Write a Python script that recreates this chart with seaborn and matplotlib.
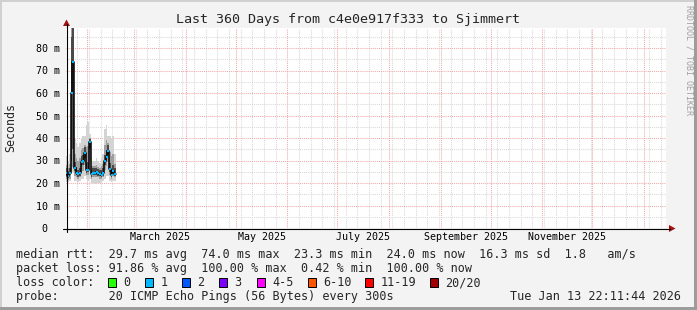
import numpy as np
import pandas as pd
import matplotlib
matplotlib.use("Agg")
import matplotlib.pyplot as plt
import matplotlib.dates as mdates
from matplotlib.patches import Rectangle, Polygon
from matplotlib.lines import Line2D
from matplotlib.ticker import MultipleLocator
import seaborn as sns

# ---------------- data ----------------
first_day = "2025-01-19"
n_days = 30
median = [24.6, 23.3, 24.6, 60.0, 74.0, 26.8, 24.5, 23.8, 24.3, 29.3,
          29.9, 33.3, 25.8, 26.0, 38.2, 23.8, 24.6, 24.6, 24.8, 24.3,
          23.9, 23.6, 24.3, 29.9, 31.7, 34.4, 26.4, 23.7, 25.5, 24.0]
rtt_min = [20.5, 20.5, 21, 24, 25, 21, 21, 20.5, 21, 22,
           22, 23, 22, 21, 22, 20, 20, 19.5, 20, 20,
           20, 20, 21, 22, 23, 23, 21, 20.5, 21, 21]
rtt_max = [32, 30, 33, 95, 95, 40, 38, 36, 38, 40,
           41, 41, 46, 47, 42, 31, 30, 30, 31, 30,
           29, 31, 33, 44, 46, 41, 41, 40, 41, 33]
rtt_p10 = [22.0, 21.5, 22.0, 26, 27, 23, 22.5, 22, 22.5, 25,
           25.5, 28, 23.5, 23.5, 30, 22, 22.5, 22.5, 22.5, 22.5,
           22, 22, 22.5, 26, 27.5, 29.5, 23.5, 22, 23, 22.5]
rtt_p90 = [28.0, 26.5, 28.5, 95, 95, 33, 31, 30, 31, 34.5,
           35.5, 37, 36, 36.5, 40, 27.5, 27.5, 27.5, 28, 27,
           26.5, 27.5, 28.5, 37, 39, 38, 34, 32, 33, 28.5]
rtt_q1 = [23.4, 22.3, 23.4, 30, 35, 25.4, 23.4, 22.8, 23.3, 27.5,
          28, 31, 24.5, 24.8, 35, 22.8, 23.5, 23.5, 23.7, 23.3,
          22.9, 22.6, 23.3, 28, 30, 32.5, 25, 22.7, 24.3, 23]
rtt_q3 = [26.6, 25.3, 26.8, 85, 90, 29.5, 27, 26, 26.8, 32,
          32.5, 36, 29, 29.5, 39.5, 25.8, 26.5, 26.5, 26.8, 26.2,
          25.8, 25.8, 26.5, 32.5, 34.5, 37, 29, 26, 28, 26.5]

range_start = "2025-01-19 04:00"
range_days = 360
yticks = [0, 10, 20, 30, 40, 50, 60, 70, 80]
ytick_labels = ["0  ", "10 m", "20 m", "30 m", "40 m", "50 m", "60 m", "70 m", "80 m"]
month_label_starts = ["2025-03-01", "2025-05-01", "2025-07-01", "2025-09-01", "2025-11-01"]
month_labels = ["March 2025", "May 2025", "July 2025", "September 2025", "November 2025"]

title = "Last 360 Days from c4e0e917f333 to Sjimmert"
legend_rtt = "median rtt:  29.7 ms avg  74.0 ms max  23.3 ms min  24.0 ms now  16.3 ms sd  1.8   am/s"
legend_loss = "packet loss: 91.86 % avg  100.00 % max  0.42 % min  100.00 % now"
legend_probe = "probe:       20 ICMP Echo Pings (56 Bytes) every 300s"
stamp = "Tue Jan 13 22:11:44 2026"
loss_labels = ["0", "1", "2", "3", "4-5", "6-10", "11-19", "20/20"]
loss_colors = ["#26ff00", "#00b8ff", "#0059ff", "#7e00ff", "#ff00ff",
               "#ff5500", "#ff0000", "#a10000"]

# ---------------- figure ----------------
sns.set_theme(style="white")
plt.rcParams['font.family'] = ['DejaVu Sans Mono', 'DejaVu Sans']

W, H = 697, 310
fig = plt.figure(figsize=(W / 100, H / 100), dpi=100, facecolor="#f3f3f3")


def fx(x):
    return x / W


def fy(y):
    return 1 - y / H


ax = fig.add_axes([fx(66), fy(228), 600 / W, 200 / H])
ax.set_facecolor("white")

days = pd.date_range(first_day, periods=n_days, freq="D")
edges = days.append(pd.DatetimeIndex([days[-1] + pd.Timedelta(days=1)]))


def ext(a):
    return list(a) + [a[-1]]


ax.fill_between(edges, ext(rtt_min), ext(rtt_max), step="post", color="#d4d4d4", lw=0, zorder=2)
ax.fill_between(edges, ext(rtt_p10), ext(rtt_p90), step="post", color="#9e9e9e", lw=0, zorder=2)
ax.fill_between(edges, ext(rtt_q1), ext(rtt_q3), step="post", color="#4a4a4a", lw=0, zorder=2)

df_line = pd.DataFrame({"date": edges, "median": ext(median)})
sns.lineplot(data=df_line, x="date", y="median", drawstyle="steps-post",
             color="black", lw=1.1, ax=ax, zorder=3)
df_pts = pd.DataFrame({"date": days + pd.Timedelta(hours=12), "median": median})
sns.scatterplot(data=df_pts, x="date", y="median", marker="s", s=4.5,
                color="#00b8ff", linewidth=0, ax=ax, zorder=4)

t0 = pd.Timestamp(range_start)
t1 = t0 + pd.Timedelta(days=range_days)
ax.set_xlim(t0, t1)
ax.set_ylim(0, 200 / 2.25)
ax.set_xlabel("")
ax.set_ylabel("")

ax.xaxis.set_major_locator(mdates.MonthLocator())
ax.xaxis.set_minor_locator(mdates.WeekdayLocator(byweekday=mdates.SU))
ax.set_xticklabels([])
ax.xaxis.set_minor_formatter(plt.NullFormatter())
ax.set_yticks(yticks)
ax.set_yticklabels(ytick_labels, fontsize=7.2, family="DejaVu Sans Mono")
ax.yaxis.set_minor_locator(MultipleLocator(5))

red = "#f3a8a8"
gray = "#d8d8d8"
ax.grid(which="major", color=red, ls=(0, (1, 1)), lw=0.75)
ax.grid(which="minor", color=gray, ls=(0, (1, 1)), lw=0.75)
ax.set_axisbelow(True)
for s in ax.spines.values():
    s.set_visible(False)
ax.tick_params(axis="y", which="major", length=2.2, width=0.7, color=red, pad=2.2, labelcolor="black")
ax.tick_params(axis="y", which="minor", length=0)
ax.tick_params(axis="x", which="major", length=2.0, width=0.7, color=red, direction="out")
ax.tick_params(axis="x", which="minor", length=1.4, width=0.7, color=gray, direction="out")

# month labels centred on the month
for lbl, ms in zip(month_labels, month_label_starts):
    a = pd.Timestamp(ms)
    b = a + pd.offsets.MonthBegin(1)
    c = a + (b - a) / 2
    ax.text(c, -9.3 / 200, lbl, transform=ax.get_xaxis_transform(), ha="center",
            va="center", fontsize=7.2, color="black")

# axis lines and arrows
axc = "black"
arrow_c = "#a01010"
fig.add_artist(Line2D([fx(66.5), fx(66.5)], [fy(231.5), fy(24)], transform=fig.transFigure, color=axc, lw=0.8))
fig.add_artist(Line2D([fx(62.5), fx(670)], [fy(228.5), fy(228.5)], transform=fig.transFigure, color=axc, lw=0.8))
fig.add_artist(Polygon([(fx(66.5), fy(19.5)), (fx(63), fy(26)), (fx(70), fy(26))], closed=True,
                       transform=fig.transFigure, color=arrow_c, lw=0))
fig.add_artist(Polygon([(fx(675.5), fy(228.5)), (fx(669), fy(225)), (fx(669), fy(232))], closed=True,
                       transform=fig.transFigure, color=arrow_c, lw=0))

# frame shading
fig.add_artist(Rectangle((0, fy(2)), 1, 2 / H, transform=fig.transFigure, color="#d0d0d0", lw=0))
fig.add_artist(Rectangle((0, 0), 2 / W, 1, transform=fig.transFigure, color="#d0d0d0", lw=0))
fig.add_artist(Rectangle((0, 0), 1, 3 / H, transform=fig.transFigure, color="#9c9c9c", lw=0))
fig.add_artist(Rectangle((fx(694), 0), 3 / W, 1, transform=fig.transFigure, color="#9c9c9c", lw=0))

# texts
fig.text(fx(348), fy(19.5), title, ha="center", va="center", fontsize=9.6)
fig.text(fx(11), fy(127.5), "Seconds", rotation=90, ha="center", va="center", fontsize=8.4)
fig.text(fx(688.5), fy(5), "RRDTOOL / TOBI OETIKER", rotation=270, ha="center", va="top",
         fontsize=6.0, color="#a0a0a0")

fs = 8.5
fig.text(fx(16.4), fy(254.5), legend_rtt, ha="left", va="center", fontsize=fs)
fig.text(fx(16.4), fy(268.5), legend_loss, ha="left", va="center", fontsize=fs)
fig.text(fx(16.4), fy(282.5), "loss color:", ha="left", va="center", fontsize=fs)
fig.text(fx(16.4), fy(296.5), legend_probe, ha="left", va="center", fontsize=fs)
fig.text(fx(680.5), fy(296.5), stamp, ha="right", va="center", fontsize=fs)

box_x = [108, 145, 182, 219, 257, 307.5, 365, 430]
for bx, col, lbl in zip(box_x, loss_colors, loss_labels):
    fig.add_artist(Rectangle((fx(bx), fy(287)), 8 / W, 9 / H, transform=fig.transFigure,
                             facecolor=col, edgecolor="black", lw=0.7))
    fig.text(fx(bx + 15.5), fy(282.5), lbl, ha="left", va="center", fontsize=fs)

fig.savefig("out.png", dpi=100, facecolor=fig.get_facecolor())
